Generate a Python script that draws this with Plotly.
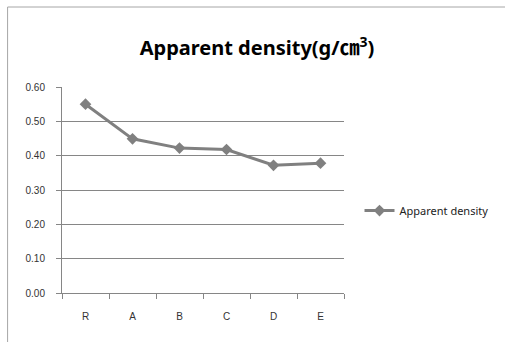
import plotly.graph_objects as go

categories = ["R", "A", "B", "C", "D", "E"]
density = [0.55, 0.449, 0.422, 0.418, 0.372, 0.378]
y_ticks = [0.0, 0.1, 0.2, 0.3, 0.4, 0.5, 0.6]
y_labels = ["0.00", "0.10", "0.20", "0.30", "0.40", "0.50", "0.60"]

fig = go.Figure()
fig.add_trace(go.Scatter(
    x=categories, y=density, mode="lines+markers", name="Apparent density",
    line=dict(color="#808080", width=3),
    marker=dict(symbol="diamond", size=9, color="#808080"),
))

fig.update_layout(
    width=505, height=342,
    margin=dict(l=62, r=158, t=87, b=49),
    paper_bgcolor="white", plot_bgcolor="white",
    font=dict(family="Liberation Sans, Arial, sans-serif", size=10, color="#333333"),
    title=dict(
        text="<b>Apparent density(g/㎝<sup>3</sup>)</b>",
        x=257/505, xanchor="center", xref="container",
        y=1-48/342, yanchor="middle", yref="container",
        font=dict(family="Noto Sans, Noto Sans CJK SC, sans-serif", size=20, color="black"),
    ),
    showlegend=True,
    legend=dict(
        x=1.055, xanchor="left", y=0.40, yanchor="middle",
        font=dict(family="Noto Sans, sans-serif", size=11, color="#222222"),
        bgcolor="rgba(0,0,0,0)", itemwidth=30,
    ),
    xaxis=dict(
        type="category", range=[-0.5, 5.5],
        showgrid=False, showline=True, linecolor="#868686", linewidth=1,
        ticks="outside", tickson="boundaries", ticklen=5, tickcolor="#868686",
        ticklabelstandoff=14,
        tickfont=dict(size=10, color="#333333"), zeroline=False,
    ),
    yaxis=dict(
        range=[0, 0.6], tickvals=y_ticks, ticktext=y_labels,
        showgrid=True, gridcolor="#868686", gridwidth=1,
        showline=True, linecolor="#868686", linewidth=1,
        ticks="outside", ticklen=5, tickcolor="#868686",
        ticklabelstandoff=9,
        tickfont=dict(size=10, color="#333333"), zeroline=False,
    ),
    shapes=[dict(
        type="rect", xref="paper", yref="paper",
        x0=(7-62)/285, x1=2.0, y0=-0.3, y1=(293-7)/206,
        line=dict(color="#a6a6a6", width=1), fillcolor="rgba(0,0,0,0)", layer="below",
    )],
)

fig.write_html("out.html")
